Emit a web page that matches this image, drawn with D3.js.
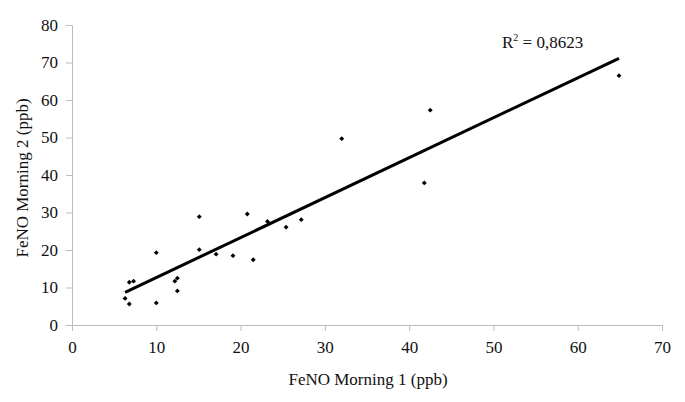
<!DOCTYPE html>
<html>
<head>
<meta charset="utf-8">
<script src="https://cdn.jsdelivr.net/npm/d3@7"></script>
<style>
  body { margin: 0; background: #fff; }
  text { font-family: "Liberation Serif", "Times New Roman", serif; fill: #111; }
</style>
</head>
<body>
<div id="chart"></div>
<script>
var morning1 = [6.3, 6.8, 6.8, 7.3, 10.0, 10.0, 12.2, 12.5, 12.5, 15.1, 15.1, 17.1, 19.1, 20.8, 21.5, 23.2, 25.4, 27.2, 32.0, 41.8, 42.5, 64.9];
var morning2 = [7.1, 5.6, 11.4, 11.7, 19.3, 5.9, 11.7, 12.5, 9.1, 28.9, 20.1, 18.9, 18.5, 29.6, 17.4, 27.6, 26.1, 28.1, 49.7, 37.9, 57.3, 66.5];
var xTicks = [0, 10, 20, 30, 40, 50, 60, 70];
var yTicks = [0, 10, 20, 30, 40, 50, 60, 70, 80];
var trendSlope = 1.065, trendIntercept = 2.0;
var r2Label = "0,8623";

var width = 685, height = 402;
var margin = {left: 72, top: 25, right: 23, bottom: 77};

var svg = d3.select("#chart").append("svg")
    .attr("width", width)
    .attr("height", height);

var x = d3.scaleLinear().domain([0, 70]).range([margin.left, width - margin.right]);
var y = d3.scaleLinear().domain([0, 80]).range([height - margin.bottom, margin.top]);

//axes
var xAxis = svg.append("g")
    .attr("transform", "translate(0," + y(0) + ")")
    .call(d3.axisBottom(x).tickValues(xTicks).tickSize(6).tickPadding(10));
var yAxis = svg.append("g")
    .attr("transform", "translate(" + x(0) + ",0)")
    .call(d3.axisLeft(y).tickValues(yTicks).tickSize(6).tickPadding(8));

[xAxis, yAxis].forEach(function(a){
    a.selectAll("path").attr("stroke", "#bdbdbd").attr("stroke-width", 1);
    a.selectAll("line").attr("stroke", "#bdbdbd");
    a.selectAll("text").attr("font-size", 17).attr("font-family", "Liberation Serif").attr("fill", "#111");
});

//trend line over the data range
var xr = d3.extent(morning1);
svg.append("line")
    .attr("x1", x(xr[0])).attr("y1", y(trendSlope * xr[0] + trendIntercept))
    .attr("x2", x(xr[1])).attr("y2", y(trendSlope * xr[1] + trendIntercept))
    .attr("stroke", "#000")
    .attr("stroke-width", 3);

//points (square turned 45 degrees, like the spreadsheet diamond)
svg.selectAll(".pt")
    .data(morning1)
    .enter()
    .append("path")
    .classed("pt", true)
    .attr("d", d3.symbol().type(d3.symbolSquare).size(12))
    .attr("transform", function(d, i){ return "translate(" + x(d) + "," + y(morning2[i]) + ") rotate(45)"; })
    .attr("fill", "#000");

//r squared
var r2 = svg.append("text")
    .attr("x", 502)
    .attr("y", 48)
    .attr("font-size", 17);
r2.append("tspan").text("R");
r2.append("tspan").attr("dy", -7).attr("font-size", 10).text("2");
r2.append("tspan").attr("dy", 7).text(" = " + r2Label);

//axis titles
svg.append("text")
    .attr("x", 368)
    .attr("y", 385)
    .attr("text-anchor", "middle")
    .attr("font-size", 17)
    .text("FeNO Morning 1 (ppb)");

svg.append("text")
    .attr("transform", "translate(28," + 178 + ") rotate(-90)")
    .attr("text-anchor", "middle")
    .attr("font-size", 17)
    .text("FeNO Morning 2 (ppb)");
</script>
</body>
</html>
